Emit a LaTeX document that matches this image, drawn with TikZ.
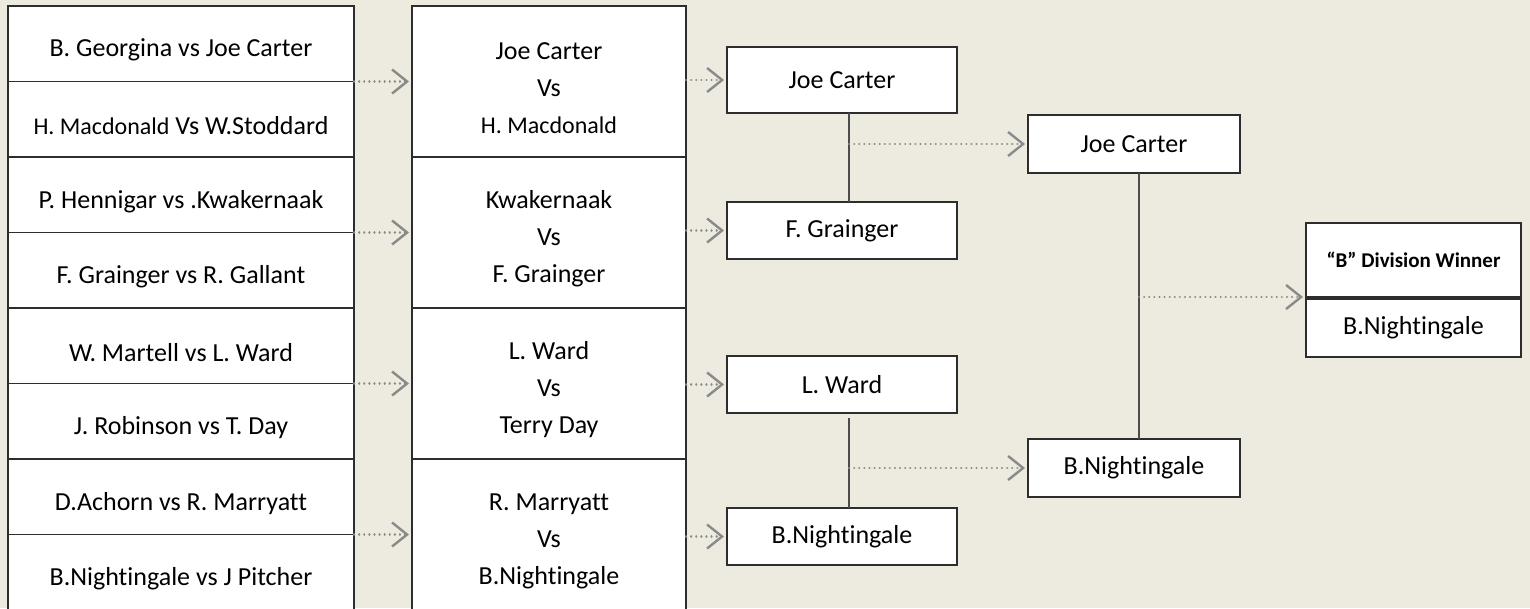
\documentclass[tikz,border=0pt]{standalone}
\usepackage{fontspec}
\setmainfont{Carlito}[Ligatures=NoCommon]
\usepackage{xcolor}
\usepackage{tikz}
\usetikzlibrary{arrows.meta}

\definecolor{pagebg}{RGB}{237,234,224}
\definecolor{boxline}{RGB}{45,45,45}
\definecolor{dotgray}{RGB}{138,138,138}
\newcommand{\namefont}{\fontsize{26}{37}\selectfont}
\newcommand{\smallname}{\fontsize{24}{37}\selectfont}

\begin{document}
\begin{tikzpicture}[x=1pt, y=-1pt,
        every node/.style={font=\namefont, inner sep=0pt, outer sep=0pt},
        cell/.style={draw=boxline, line width=1.4pt, fill=white, align=center},
        pairbox/.style={cell, minimum width=346pt, minimum height=75.5pt},
        matchbox/.style={cell, minimum width=274pt, minimum height=151pt},
        winbox/.style={cell, line width=1.8pt, minimum width=230pt, minimum height=57pt},
        semibox/.style={cell, line width=1.8pt, minimum width=212pt, minimum height=58pt},
        finalbox/.style={cell, line width=1.8pt, minimum width=215pt},
        celltext/.style={align=center, yshift=-6.5pt},
        joinline/.style={draw=boxline!85, line width=2pt},
        advance/.style={draw=dotgray, line width=2.2pt, line cap=round,
            dash pattern=on 0.1pt off 5pt, shorten >=3pt,
            -{Straight Barb[length=15pt, width=24pt, line width=2.4pt]}}]
        \fill[pagebg] (0,0) rectangle (1530,608);
        \useasboundingbox (0,0) rectangle (1530,608);
        % first round pairings
        \foreach \i/\pair in {1/B. Georgina vs Joe Carter,
            2/{\smallname H. Macdonald} Vs W.Stoddard,
            3/P. Hennigar vs .Kwakernaak,
            4/F. Grainger vs R. Gallant,
            5/W. Martell vs L. Ward,
            6/J. Robinson vs T. Day,
            7/D.Achorn vs R. Marryatt,
            8/B.Nightingale vs J Pitcher}
        \node[pairbox, label={[celltext, name=rt\i]center:\pair}] (r\i)
            at (181, {6+75.5*(\i-0.5)}) {};
        % second round
        \foreach \j/\match in {1/{Joe Carter\\Vs\\{\smallname H. Macdonald}},
            2/{Kwakernaak\\Vs\\F. Grainger},
            3/{L. Ward\\Vs\\Terry Day},
            4/{R. Marryatt\\Vs\\B.Nightingale}}
        \node[matchbox, label={[celltext, name=mt\j]center:\match}] (m\j)
            at (549, {6+151*(\j-0.5)}) {};
        \foreach \i/\j in {1/1, 3/2, 5/3, 7/4}
        \draw[advance] (r\i.south east) -- (r\i.south east -| m\j.west);
        % winners of the second round
        \node[winbox, minimum height=66pt] (w1) at (842, 80) {Joe Carter};
        \node[winbox] (w2) at (842, 230.5) {F. Grainger};
        \node[winbox] (w3) at (842, 384.5) {L. Ward};
        \node[winbox] (w4) at (842, 536.5) {B.Nightingale};
        \foreach \j in {1,...,4}
        \draw[advance] (m\j.east |- w\j.west) -- (w\j.west);
        % semi finals
        \node[semibox] (s1) at (1134, 144) {Joe Carter};
        \node[semibox] (s2) at (1134, 468) {B.Nightingale};
        \coordinate (j1) at ([xshift=7pt]w1.south);
        \coordinate (j2) at ([xshift=7pt]w3.south);
        \coordinate (j3) at ([xshift=5pt]s1.south);
        \draw[joinline] (j1) -- (j1 |- w2.north);
        \draw[joinline] ([yshift=-5pt]j2) -- (j2 |- w4.north);
        \draw[advance] (j1 |- s1.west) -- (s1.west);
        \draw[advance] (j2 |- s2.west) -- (s2.west);
        % division winner
        \node[finalbox, minimum height=74pt,
            font=\fontsize{21}{24}\selectfont\bfseries] (f1) at (1413.5, 260) {“B” Division Winner};
        \node[finalbox, minimum height=58pt] (f2) at (1413.5, 328) {B.Nightingale};
        \draw[joinline] (j3) -- (j3 |- s2.north);
        \draw[advance] (j3 |- f1.south west) -- (f1.south west);
\end{tikzpicture}
\end{document}
